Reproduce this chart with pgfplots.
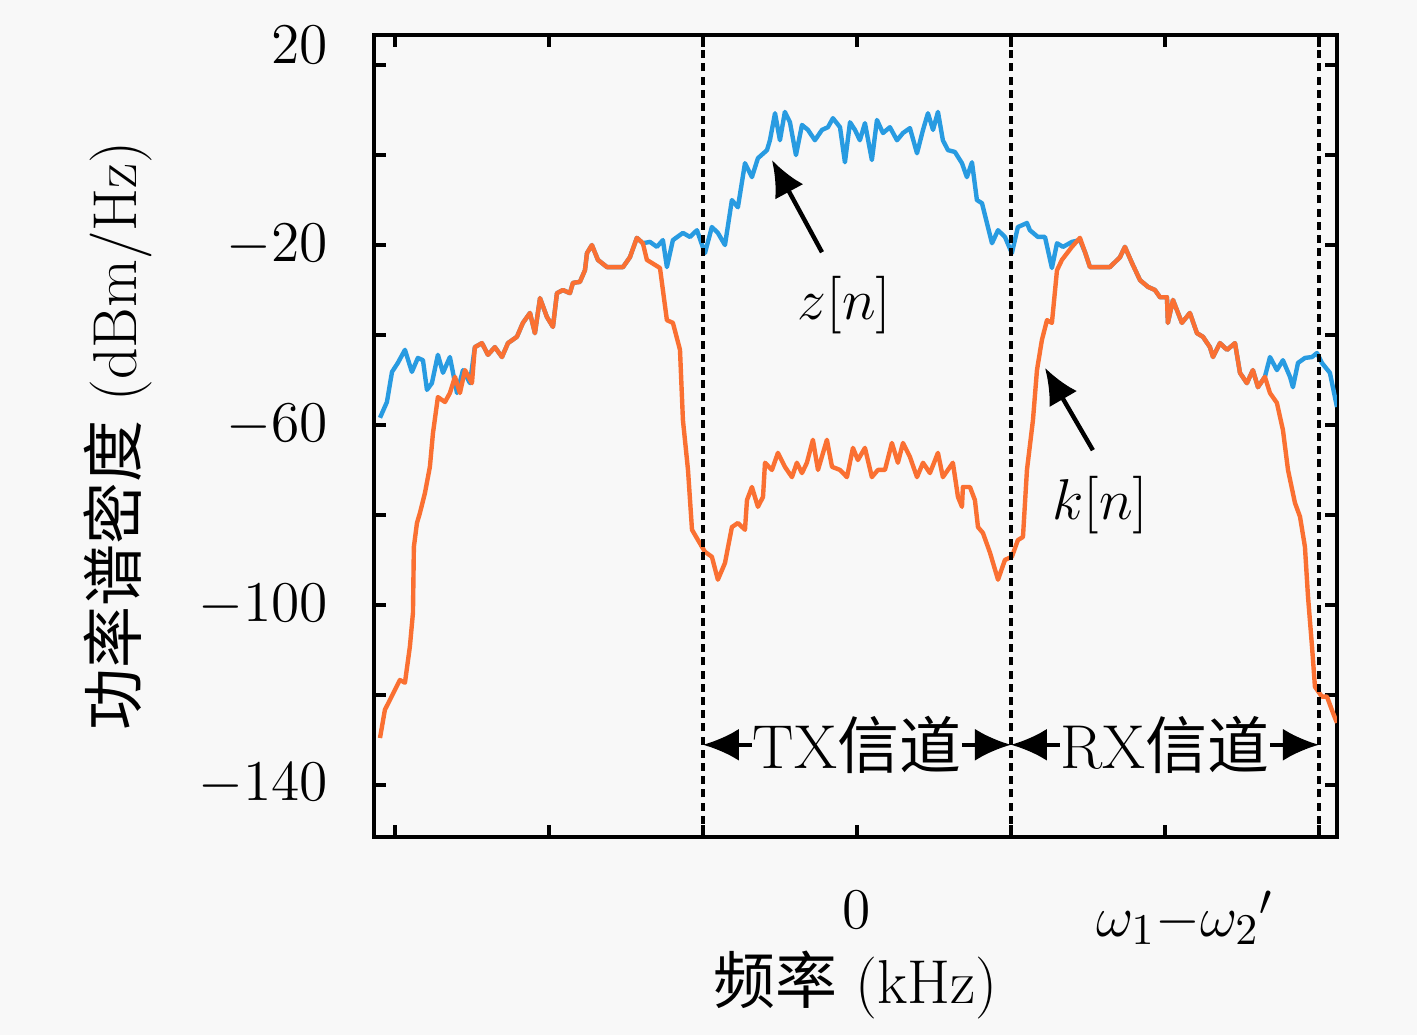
\documentclass[border=0pt]{standalone}
\usepackage{fontspec}
\usepackage{pgfplots}
\pgfplotsset{compat=1.18}
\usetikzlibrary{arrows.meta}
\newfontfamily\cjk{Noto Sans CJK SC}
\definecolor{bgc}{RGB}{248,248,248}
\definecolor{zblue}{RGB}{40,155,225}
\definecolor{korange}{RGB}{250,112,50}
\newcommand{\fs}{\fontsize{15.5}{18.6}\selectfont}
\begin{document}
\begin{tikzpicture}
\fill[bgc] (-93.5pt,-49.5pt) rectangle (260.75pt,209.25pt);
\useasboundingbox (-93.5pt,-49.5pt) rectangle (260.75pt,209.25pt);
\begin{axis}[
  scale only axis, width=240.75pt, height=200.5pt,
  xmin=-3.136, xmax=3.117, ymin=-151.6, ymax=26.7,
  axis line style={line width=1pt},
  tick style={line width=1pt, black},
  major tick length=3pt,
  tick align=inside,
  xtick={-3,-2,-1,0,1,2,3},
  xticklabels={{},{},{},$0$,{},{\hspace*{10pt}$\omega_1{-}{\omega_2}'$},{}},
  ytick={-140,-120,-100,-80,-60,-40,-20,0,20},
  yticklabels={$-140$,{},$-100$,{},$-60$,{},$-20$,{},{\raisebox{10pt}{$20$}}},
  tick label style={font=\fs},
  yticklabel style={anchor=east, xshift=-8pt},
  xticklabel style={anchor=north, yshift=-10pt},
  xlabel={{\cjk 频率} (kHz)},
  ylabel={{\cjk 功率谱密度} (dBm/Hz)},
  label style={font=\fs},
  xlabel style={at={(axis description cs:0.5,-0.1845)}, anchor=center},
  ylabel style={at={(axis description cs:-0.266,0.5)}, anchor=center, rotate=0},
  clip=true,
]
% z[n]
\addplot[zblue, line width=1.1pt, line join=round] table {
-3.097 -58.4
-3.052 -54.9
-3.019 -48.2
-2.981 -46.2
-2.935 -43.3
-2.890 -48.2
-2.851 -45.1
-2.818 -45.6
-2.792 -52.2
-2.760 -50.7
-2.721 -44.4
-2.688 -48.4
-2.643 -44.9
-2.597 -52.9
-2.558 -47.8
-2.513 -50.7
-2.481 -42.7
-2.435 -41.8
-2.396 -44.4
-2.351 -42.7
-2.305 -44.9
-2.266 -41.8
-2.208 -40.4
-2.169 -37.3
-2.123 -35.1
-2.091 -39.6
-2.058 -31.8
-2.013 -36.0
-1.974 -38.2
-1.948 -30.7
-1.909 -30.0
-1.864 -30.7
-1.844 -28.4
-1.799 -28.2
-1.766 -25.6
-1.753 -21.8
-1.721 -20.0
-1.682 -23.3
-1.623 -24.9
-1.519 -24.9
-1.474 -22.7
-1.429 -18.4
-1.390 -19.6
-1.344 -19.3
-1.299 -20.4
-1.260 -18.9
-1.234 -24.9
-1.195 -18.9
-1.130 -17.3
-1.084 -18.2
-1.039 -16.7
-0.987 -21.8
-0.942 -16.0
-0.903 -17.3
-0.857 -20.0
-0.812 -10.0
-0.773 -11.6
-0.727 -1.8
-0.682 -4.9
-0.643 -0.7
-0.584 1.1
-0.565 3.3
-0.532 9.3
-0.500 3.3
-0.468 9.6
-0.435 7.3
-0.396 0.0
-0.357 6.7
-0.318 5.6
-0.273 3.3
-0.227 5.6
-0.188 6.2
-0.156 8.2
-0.110 6.2
-0.078 -1.6
-0.045 7.3
-0.013 5.6
0.019 3.3
0.052 7.1
0.097 -1.1
0.130 7.8
0.169 4.9
0.214 6.2
0.260 3.3
0.299 4.9
0.344 6.0
0.390 0.4
0.429 5.6
0.461 9.3
0.494 5.6
0.526 9.6
0.558 3.3
0.591 1.1
0.636 0.7
0.682 -1.8
0.714 -4.9
0.747 -1.6
0.779 -10.0
0.812 -10.7
0.844 -15.1
0.877 -19.6
0.916 -16.7
0.961 -18.2
1.006 -21.8
1.045 -16.0
1.104 -15.1
1.123 -16.7
1.175 -18.2
1.221 -18.2
1.266 -25.1
1.299 -19.6
1.338 -20.4
1.396 -19.3
1.448 -18.9
1.481 -21.6
1.513 -24.9
1.643 -24.9
1.708 -22.7
1.740 -20.4
1.786 -24.0
1.838 -27.8
1.890 -29.3
1.935 -30.0
1.968 -31.6
2.013 -31.6
2.019 -37.3
2.052 -32.2
2.110 -37.3
2.162 -35.1
2.208 -39.6
2.247 -40.4
2.292 -42.7
2.312 -44.9
2.357 -41.8
2.403 -43.3
2.455 -41.8
2.487 -48.4
2.532 -50.7
2.571 -47.8
2.604 -51.6
2.649 -49.3
2.682 -44.9
2.727 -47.8
2.766 -45.6
2.812 -49.3
2.831 -51.6
2.864 -46.2
2.909 -45.1
2.955 -44.9
2.987 -44.0
3.019 -46.2
3.071 -48.4
3.117 -56.0
};
% k[n]
\addplot[korange, line width=1.1pt, line join=round] table {
-3.097 -129.6
-3.065 -123.3
-3.032 -121.1
-2.968 -116.7
-2.935 -117.3
-2.903 -109.3
-2.883 -101.8
-2.877 -87.1
-2.857 -81.8
-2.838 -79.6
-2.805 -75.1
-2.773 -69.3
-2.753 -61.8
-2.721 -53.8
-2.675 -54.9
-2.643 -52.9
-2.610 -49.3
-2.578 -52.9
-2.545 -47.8
-2.500 -50.7
-2.481 -42.7
-2.435 -41.8
-2.396 -44.4
-2.351 -42.7
-2.305 -44.9
-2.266 -41.8
-2.208 -40.4
-2.169 -37.3
-2.123 -35.1
-2.091 -39.6
-2.058 -31.8
-2.013 -36.0
-1.974 -38.2
-1.948 -30.7
-1.909 -30.0
-1.864 -30.7
-1.844 -28.4
-1.799 -28.2
-1.766 -25.6
-1.753 -21.8
-1.721 -20.0
-1.682 -23.3
-1.623 -24.9
-1.519 -24.9
-1.474 -22.7
-1.429 -18.4
-1.390 -19.6
-1.364 -23.3
-1.312 -24.4
-1.279 -25.1
-1.234 -36.7
-1.195 -37.3
-1.149 -43.3
-1.130 -58.9
-1.097 -70.0
-1.071 -83.3
-1.032 -85.6
-0.987 -88.2
-0.942 -89.3
-0.903 -94.4
-0.857 -90.7
-0.812 -82.7
-0.773 -81.8
-0.727 -83.3
-0.714 -76.7
-0.682 -73.8
-0.643 -78.2
-0.610 -76.0
-0.597 -68.4
-0.552 -70.0
-0.513 -66.2
-0.468 -69.3
-0.422 -71.6
-0.390 -68.4
-0.357 -70.7
-0.325 -68.4
-0.286 -63.3
-0.253 -70.0
-0.195 -63.3
-0.162 -69.3
-0.110 -70.0
-0.065 -71.6
-0.026 -65.1
0.006 -67.8
0.052 -65.1
0.097 -71.6
0.136 -70.0
0.182 -70.0
0.227 -64.0
0.266 -68.4
0.299 -64.0
0.344 -67.1
0.390 -71.6
0.429 -68.4
0.474 -70.7
0.526 -66.2
0.558 -71.6
0.623 -68.4
0.656 -76.0
0.682 -78.2
0.688 -73.8
0.734 -73.8
0.766 -76.7
0.786 -82.7
0.818 -84.0
0.864 -88.4
0.916 -94.4
0.961 -90.0
1.006 -89.3
1.045 -85.6
1.078 -84.9
1.104 -70.0
1.143 -58.9
1.169 -47.8
1.201 -41.1
1.234 -36.7
1.266 -37.3
1.299 -25.6
1.331 -23.3
1.396 -20.4
1.448 -18.4
1.481 -21.6
1.513 -24.9
1.643 -24.9
1.708 -22.7
1.740 -20.4
1.786 -24.0
1.838 -27.8
1.890 -29.3
1.935 -30.0
1.968 -31.6
2.013 -31.6
2.019 -37.3
2.052 -32.2
2.110 -37.3
2.162 -35.1
2.208 -39.6
2.247 -40.4
2.292 -42.7
2.312 -44.9
2.357 -41.8
2.403 -43.3
2.455 -41.8
2.487 -48.4
2.532 -50.7
2.571 -47.8
2.604 -51.6
2.649 -49.3
2.682 -52.9
2.727 -55.1
2.766 -61.1
2.799 -70.0
2.844 -77.3
2.877 -80.4
2.909 -87.1
2.929 -98.2
2.955 -109.3
2.974 -118.2
3.019 -120.4
3.052 -120.4
3.091 -124.0
3.117 -126.2
};
% channel boundaries
\draw[black, line width=0.9pt, dash pattern=on 2pt off 1.3pt] (axis cs:-1,-151.6) -- (axis cs:-1,26.7);
\draw[black, line width=0.9pt, dash pattern=on 2pt off 1.3pt] (axis cs:1,-151.6) -- (axis cs:1,26.7);
\draw[black, line width=0.9pt, dash pattern=on 2pt off 1.3pt] (axis cs:3,-151.6) -- (axis cs:3,26.7);
% channel labels
\node[font=\fs, inner sep=0pt] (tx) at (axis cs:0,-131.1) {TX{\cjk 信道}};
\draw[line width=0.9pt, -{Latex[length=9pt,width=8pt]}] (tx.west) -- (axis cs:-1,-131.1);
\draw[line width=0.9pt, -{Latex[length=9pt,width=8pt]}] (tx.east) -- (axis cs:1,-131.1);
\node[font=\fs, inner sep=0pt] (rx) at (axis cs:2,-131.1) {RX{\cjk 信道}};
\draw[line width=0.9pt, -{Latex[length=9pt,width=8pt]}] (rx.west) -- (axis cs:1,-131.1);
\draw[line width=0.9pt, -{Latex[length=9pt,width=8pt]}] (rx.east) -- (axis cs:3,-131.1);
% annotations
\node[font=\fs] at (axis cs:-0.08,-33.3) {$z[n]$};
\draw[line width=1.1pt, -{Latex[length=9pt,width=8pt]}] (axis cs:-0.227,-21.6) -- (axis cs:-0.552,-1.1);
\node[font=\fs] at (axis cs:1.58,-77.8) {$k[n]$};
\draw[line width=1.1pt, -{Latex[length=9pt,width=8pt]}] (axis cs:1.532,-65.6) -- (axis cs:1.221,-47.3);
\end{axis}
\end{tikzpicture}
\end{document}
